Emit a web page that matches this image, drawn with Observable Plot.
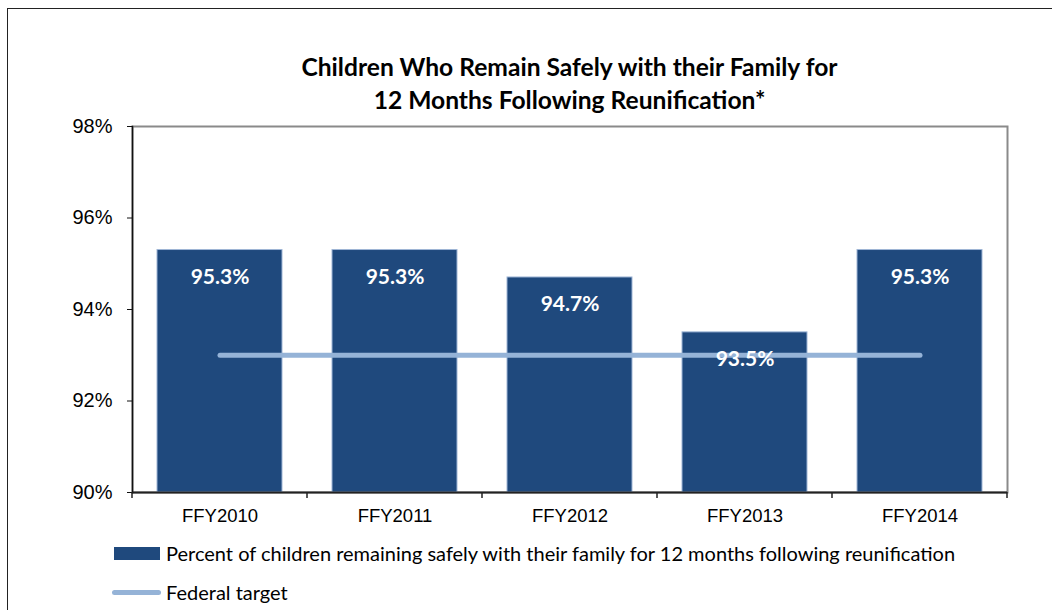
<!DOCTYPE html>
<html>
<head>
<meta charset="utf-8">
<script src="https://cdn.jsdelivr.net/npm/d3@7"></script>
<script src="https://cdn.jsdelivr.net/npm/@observablehq/plot@0.6"></script>
<style>
  html, body { margin: 0; padding: 0; background: #fff; width: 1052px; height: 610px; overflow: hidden; }
  #frame { position: absolute; left: 7px; top: 8px; width: 1200px; height: 800px; border-left: 1.5px solid #222; border-top: 1.5px solid #222; box-sizing: border-box; }
  #title { position: absolute; left: 132px; width: 875px; top: 50px; text-align: center; font-family: Lato, "Open Sans", sans-serif; font-weight: 700; font-size: 24.6px; line-height: 33px; color: #000; }
  #chart { position: absolute; left: 0; top: 100px; }
  #chart svg text { font-family: "Liberation Sans", Arial, sans-serif; }
  #chart svg g[aria-label="text"] text { font-family: Lato, "Open Sans", sans-serif; }
  .leg { position: absolute; font-family: Lato, "Open Sans", sans-serif; font-size: 20px; color: #000; line-height: 22px; white-space: nowrap; }
  .sw1 { position: absolute; left: 114px; top: 547px; width: 46px; height: 13px; background: #1F497D; }
  .sw2 { position: absolute; left: 112px; top: 590px; width: 49px; height: 5px; border-radius: 3px; background: #95B3D7; }
</style>
</head>
<body>
<div id="frame"></div>
<div id="title">Children Who Remain Safely with their Family for<br>12 Months Following Reunification*</div>
<div id="chart"></div>
<div class="sw1"></div>
<div class="leg" id="leg1" style="left:166px; top:542px;"></div>
<div class="sw2"></div>
<div class="leg" id="leg2" style="left:166px; top:581px;"></div>
<script>
const categories = ["FFY2010", "FFY2011", "FFY2012", "FFY2013", "FFY2014"];
const percentValues = [95.3, 95.3, 94.7, 93.5, 95.3];
const federalTarget = [93, 93, 93, 93, 93];
const yTicks = [90, 92, 94, 96, 98];
const seriesNames = ["Percent of children remaining safely with their family for 12 months following reunification", "Federal target"];

document.getElementById("leg1").textContent = seriesNames[0];
document.getElementById("leg2").textContent = seriesNames[1];

const bars = categories.map((c, i) => ({cat: c, value: percentValues[i]}));
const target = categories.map((c, i) => ({cat: c, value: federalTarget[i]}));

const barColor = "#1F497D";
const W = 1052, ML = 132, MR = 45, MT = 26, MB = 45, H = 437;

const chart = Plot.plot({
  width: W,
  height: H,
  marginLeft: ML,
  marginRight: MR,
  marginTop: MT,
  marginBottom: MB,
  style: {background: "transparent", overflow: "visible"},
  x: {domain: categories, paddingInner: 0.286, paddingOuter: 0.143, align: 0.5, label: null},
  y: {domain: [90, 98], label: null},
  marks: [
    Plot.frame({stroke: "#8a8a8a", strokeWidth: 2}),
    Plot.barY(bars, {x: "cat", y1: 90, y2: "value", fill: barColor, stroke: "#9fb6d6", strokeWidth: 1}),
    Plot.line(target, {x: "cat", y: "value", stroke: "#95B3D7", strokeWidth: 5}),
    Plot.text(bars, {x: "cat", y: "value", text: d => d.value.toFixed(1) + "%", dy: 27, fill: "white", fontWeight: 700, fontSize: 21}),
    Plot.ruleY([90], {stroke: "#222", strokeWidth: 2}),
    Plot.frame({anchor: "left", stroke: "#111", strokeWidth: 1.5}),
    Plot.axisY({ticks: yTicks, tickFormat: d => d + "%", tickSize: 5, tickPadding: 15, fontSize: 20, fill: "#000", stroke: "#111", label: null}),
    Plot.axisX({tickSize: 0, tickPadding: 16, fontSize: 18.5, fill: "#000", label: null})
  ]
});
document.getElementById("chart").appendChild(chart);

// category boundary ticks on the x axis, from Plot's own band scale
const sx = chart.scale("x");
const sy = chart.scale("y");
const gap = (sx.step - sx.bandwidth) / 2;
const bounds = categories.map(c => sx.apply(c) - gap);
bounds.push(sx.apply(categories[categories.length - 1]) + sx.bandwidth + gap);
const y0 = sy.apply(90);
d3.select(chart).append("g")
  .selectAll("line").data(bounds).join("line")
  .attr("x1", d => d).attr("x2", d => d)
  .attr("y1", y0).attr("y2", y0 + 6)
  .attr("stroke", "#222").attr("stroke-width", 1.5);
</script>
</body>
</html>
